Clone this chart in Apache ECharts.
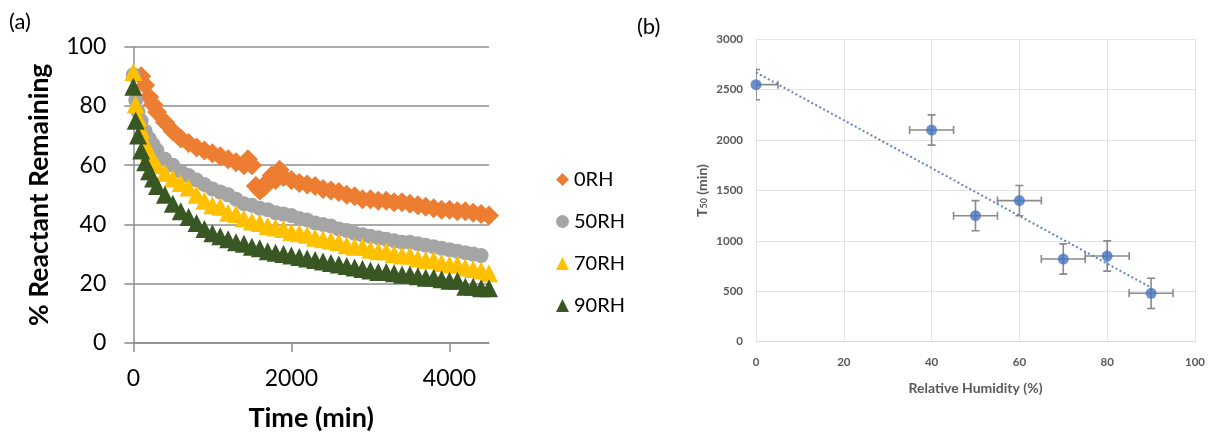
<!DOCTYPE html>
<html>
<head>
<meta charset="utf-8">
<script src="https://cdn.jsdelivr.net/npm/echarts@6/dist/echarts.min.js"></script>
<style>
  html, body { margin: 0; padding: 0; background: #fff; }
  #wrap { position: relative; width: 1208px; height: 437px; overflow: hidden; }
  #panelB { position: absolute; left: 630px; top: 0; width: 578px; height: 437px; filter: blur(0.6px); }
  #panelA { position: absolute; left: 0; top: 0; width: 1208px; height: 437px; }
</style>
</head>
<body>
<div id="wrap"><div id="panelB"></div><div id="panelA"></div></div>
<script>
// ---------- Panel (a): % reactant remaining vs time ----------
const SERIES_NAMES = ['0RH', '50RH', '70RH', '90RH'];

// sampling times (min) for 50RH / 70RH / 90RH
const TIME = [0, 30, 60, 100, 150, 200, 250, 300, 400, 500, 600, 700, 800, 900, 1000,
  1100, 1200, 1300, 1400, 1500, 1600, 1700, 1800, 1900, 2000, 2100, 2200, 2300, 2400,
  2500, 2600, 2700, 2800, 2900, 3000, 3100, 3200, 3300, 3400, 3500, 3600, 3700, 3800,
  3900, 4000, 4100, 4200, 4300, 4400, 4500];

// sampling times (min) for 0RH
const TIME_0RH = [100, 150, 200, 250, 300, 400, 500, 600, 700, 800, 900, 1000, 1100,
  1200, 1300, 1400, 1450, 1500, 1550, 1600, 1650, 1700, 1750, 1800, 1850, 1900, 2000,
  2100, 2200, 2300, 2400, 2500, 2600, 2700, 2800, 2900, 3000, 3100, 3200, 3300, 3400,
  3500, 3600, 3700, 3800, 3900, 4000, 4100, 4200, 4300, 4400, 4500];

const RH0 = [90, 87, 83, 80.5, 78, 74.5, 71.5, 69, 67.5, 66, 65, 64, 63, 62, 61, 60,
  62, 60, 53, 51.5, 52.5, 54.5, 56.5, 55, 58.5, 56, 55, 54, 53.5, 53, 52, 51.5, 51, 50,
  49.5, 48.5, 48.5, 48, 48, 47.5, 47.5, 47, 46.5, 46, 45.5, 45, 45, 44.5, 44.5, 44, 43.5, 43];

const RH50 = [90.5, 82, 78, 75, 71.5, 69, 67, 65, 62, 60, 58, 56.5, 55, 53.5, 52, 51,
  50, 48.5, 47, 46.5, 45.5, 45, 44, 43.5, 43, 42, 41.5, 40.5, 40, 39.5, 38.5, 38, 37,
  36.5, 36, 35.5, 35, 34.5, 34, 34, 33.5, 33, 32.5, 32, 31.5, 31, 30.5, 30, 29.5, null];

const RH70 = [91.5, 80.5, 76, 72, 67.5, 64.5, 62, 60, 57.5, 55.5, 54, 52.5, 50, 48,
  46.5, 46, 44, 43.5, 42, 41, 40.5, 39.5, 39, 38.5, 37.5, 37, 36.5, 35.5, 35, 34.5, 34,
  33, 32.5, 32.5, 31.5, 31, 31, 30, 29.5, 29.5, 28.5, 28, 28, 27, 26.5, 26.5, 25.5, 25,
  24.5, 23.5];

const RH90 = [86.5, 75, 70, 65, 61, 58, 55.5, 53, 50, 47, 44.5, 42.5, 40.5, 38.5, 37,
  36, 35, 34, 33.5, 32.5, 32, 31, 30.5, 30, 29.5, 29, 28.5, 28, 27.5, 27, 26.5, 26, 25.5,
  25, 24.5, 24, 24, 23.5, 23, 23, 22.5, 22, 22, 21.5, 21, 21, 19, 19, 18.5, 18.5];

const X_TICKS_A = [0, 2000, 4000];

// ---------- Panel (b): T50 vs relative humidity ----------
const RH = [0, 40, 50, 60, 70, 80, 90];
const T50 = [2550, 2100, 1250, 1400, 820, 850, 480];
const T50_ERR = [150, 150, 150, 150, 150, 150, 150];
const RH_ERR = [5, 5, 5, 5, 5, 5, 5];

const zip = (xs, ys) => xs.map((x, i) => [x, ys[i]]).filter(p => p[1] !== null);
const plain = v => String(v);

// ---------------- chart (a) ----------------
const FONT_A = 'Lato, "Open Sans", sans-serif';
const GRID_COLOR = '#8c8c8c';
const chartA = echarts.init(document.getElementById('panelA'), null, { renderer: 'canvas' });
const markerA = [
  { symbol: 'diamond', size: 20, color: '#ED7D31' },
  { symbol: 'circle', size: 15, color: '#A5A5A5' },
  { symbol: 'triangle', size: 18, color: '#FFC000' },
  { symbol: 'triangle', size: 18, color: '#385723' }
];
const dataA = [zip(TIME_0RH, RH0), zip(TIME, RH50), zip(TIME, RH70), zip(TIME, RH90)];

chartA.setOption({
  backgroundColor: 'transparent',
  animation: false,
  textStyle: { fontFamily: FONT_A },
  graphic: [
    { type: 'text', left: 9, top: 11, style: { text: '(a)', font: '22px ' + FONT_A, fill: '#000' } },
    { type: 'text', left: 637, top: 16, style: { text: '(b)', font: '22px ' + FONT_A, fill: '#000' } }
  ],
  grid: { left: 133.3, top: 46.7, width: 355.7, height: 300, containLabel: false },
  xAxis: {
    type: 'value', min: 0, max: 4500,
    name: 'Time (min)', nameLocation: 'middle', nameGap: 62,
    nameTextStyle: { fontSize: 27, fontWeight: 'bold', color: '#000', fontFamily: FONT_A },
    axisLine: { show: true, lineStyle: { color: GRID_COLOR, width: 1.5 } },
    axisTick: { show: true, length: 9, lineStyle: { color: GRID_COLOR, width: 1.5 }, customValues: X_TICKS_A },
    axisLabel: { fontSize: 23, color: '#000', margin: 24, customValues: X_TICKS_A, formatter: plain },
    splitLine: { show: false }
  },
  yAxis: {
    type: 'value', min: 0, max: 100, interval: 20,
    name: '% Reactant Remaining', nameLocation: 'middle', nameGap: 80,
    nameTextStyle: { fontSize: 26.5, fontWeight: 'bold', color: '#000', fontFamily: FONT_A },
    axisLine: { show: true, lineStyle: { color: GRID_COLOR, width: 1.5 } },
    axisTick: { show: true, length: 9, lineStyle: { color: GRID_COLOR, width: 1.5 } },
    axisLabel: { fontSize: 23, color: '#000', margin: 27, formatter: plain },
    splitLine: { show: true, lineStyle: { color: GRID_COLOR, width: 1.5 } }
  },
  legend: {
    orient: 'vertical', left: 551, top: 164,
    itemWidth: 13, itemHeight: 13, itemGap: 21,
    textStyle: { fontSize: 20, color: '#000', lineHeight: 21, fontFamily: FONT_A },
    data: SERIES_NAMES.map((n, i) => ({ name: n, icon: markerA[i].symbol,
      itemStyle: { color: markerA[i].color } }))
  },
  series: SERIES_NAMES.map((n, i) => ({
    name: n, type: 'scatter', data: dataA[i],
    symbol: markerA[i].symbol, symbolSize: markerA[i].size,
    itemStyle: { color: markerA[i].color, opacity: 1 },
    emphasis: { disabled: true }
  }))
});

// ---------------- chart (b) ----------------
const FONT_B = 'Lato, "Open Sans", sans-serif';
const chartB = echarts.init(document.getElementById('panelB'), null, { renderer: 'canvas' });

// least-squares linear trend through the T50 points
const n = RH.length;
const mx = RH.reduce((a, b) => a + b, 0) / n;
const my = T50.reduce((a, b) => a + b, 0) / n;
let sxy = 0, sxx = 0;
for (let i = 0; i < n; i++) { sxy += (RH[i] - mx) * (T50[i] - my); sxx += (RH[i] - mx) ** 2; }
const slope = sxy / sxx;
const intercept = my - slope * mx;
const xFirst = Math.min(...RH), xLast = Math.max(...RH);
const trend = [[xFirst, intercept + slope * xFirst], [xLast, intercept + slope * xLast]];

const errData = RH.map((x, i) => [x, T50[i], RH_ERR[i], T50_ERR[i]]);
const ERR_COLOR = '#8a8a8a';
const GRID_B = { left: 126, top: 39.3, width: 440.7, height: 302.4 };

chartB.setOption({
  animation: false,
  textStyle: { fontFamily: FONT_B },
  grid: Object.assign({ containLabel: false }, GRID_B),
  // rotated y-axis title with a subscript, centred on the plot height
  graphic: [{
    type: 'text', x: 72, y: GRID_B.top + GRID_B.height / 2, rotation: Math.PI / 2,
    style: {
      text: '{t|T}{s|50}{t| (min)}', align: 'center', verticalAlign: 'middle',
      rich: {
        t: { fontSize: 14, fontWeight: 'bold', fill: '#595959', fontFamily: FONT_B },
        s: { fontSize: 9, fontWeight: 'bold', fill: '#595959', fontFamily: FONT_B, verticalAlign: 'bottom' }
      }
    }
  }],
  xAxis: {
    type: 'value', min: 0, max: 100, interval: 20,
    name: 'Relative Humidity (%)', nameLocation: 'middle', nameGap: 40,
    nameTextStyle: { fontSize: 14, fontWeight: 'bold', color: '#595959' },
    axisLine: { show: true, lineStyle: { color: '#d9d9d9', width: 1 } },
    axisTick: { show: false },
    axisLabel: { fontSize: 11.5, fontWeight: 'bold', color: '#595959', margin: 15, formatter: plain },
    splitLine: { show: true, lineStyle: { color: '#e3e3e3', width: 1 } }
  },
  yAxis: {
    type: 'value', min: 0, max: 3000, interval: 500,
    axisLine: { show: false },
    axisTick: { show: false },
    axisLabel: { fontSize: 11.5, fontWeight: 'bold', color: '#595959', margin: 13, formatter: plain },
    splitLine: { show: true, lineStyle: { color: '#e3e3e3', width: 1 } }
  },
  series: [
    {
      type: 'line', data: trend, showSymbol: false, silent: true,
      lineStyle: { color: '#5f86bd', width: 2, type: [2, 2.5] }
    },
    {
      type: 'custom', data: errData, clip: true, silent: true,
      renderItem: function (params, api) {
        const x = api.value(0), y = api.value(1), ex = api.value(2), ey = api.value(3);
        const l = api.coord([x - ex, y]), r = api.coord([x + ex, y]);
        const t = api.coord([x, y + ey]), b = api.coord([x, y - ey]);
        const cap = 4;
        const st = { stroke: ERR_COLOR, lineWidth: 1.6 };
        return {
          type: 'group',
          children: [
            { type: 'line', shape: { x1: l[0], y1: l[1], x2: r[0], y2: r[1] }, style: st },
            { type: 'line', shape: { x1: l[0], y1: l[1] - cap, x2: l[0], y2: l[1] + cap }, style: st },
            { type: 'line', shape: { x1: r[0], y1: r[1] - cap, x2: r[0], y2: r[1] + cap }, style: st },
            { type: 'line', shape: { x1: t[0], y1: t[1], x2: b[0], y2: b[1] }, style: st },
            { type: 'line', shape: { x1: t[0] - cap, y1: t[1], x2: t[0] + cap, y2: t[1] }, style: st },
            { type: 'line', shape: { x1: b[0] - cap, y1: b[1], x2: b[0] + cap, y2: b[1] }, style: st }
          ]
        };
      }
    },
    {
      type: 'scatter', data: zip(RH, T50), symbol: 'circle', symbolSize: 11, silent: true,
      itemStyle: { color: '#4374c1' }
    }
  ]
});
</script>
</body>
</html>
